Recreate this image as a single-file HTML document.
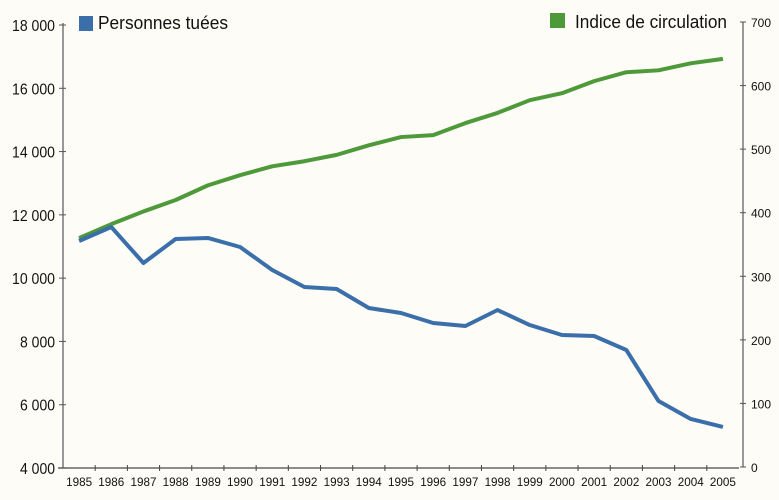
<!DOCTYPE html>
<html><head><meta charset="utf-8"><style>
html,body{margin:0;padding:0;background:#fdfcf6;}
svg{display:block;font-family:"Liberation Sans",Arial,sans-serif;}
</style></head><body>
<svg id="chart" width="779" height="500" viewBox="0 0 779 500">
<rect width="779" height="500" fill="#fdfcf6"/>
<g id="axes"></g>
<g id="series"></g>
<g>
 <rect x="79" y="16" width="14" height="15" fill="#3a6faa"/>
 <text x="98" y="29" font-size="18" fill="#111" textLength="130" lengthAdjust="spacingAndGlyphs">Personnes tuées</text>
 <rect x="550" y="13" width="15" height="15" fill="#4e9a3a"/>
 <text x="575" y="28" font-size="18" fill="#111" textLength="152" lengthAdjust="spacingAndGlyphs">Indice de circulation</text>
</g>
</svg>
<script>
const years=[1985,1986,1987,1988,1989,1990,1991,1992,1993,1994,1995,1996,1997,1998,1999,2000,2001,2002,2003,2004,2005];
const tues=[11174,11616,10478,11237,11269,10984,10257,9720,9657,9056,8898,8582,8487,8993,8519,8203,8171,7729,6117,5549,5296];
const circulation=[360,382,402,420,443,459,473,481,491,506,519,522,541,557,577,588,607,621,624,635,642];
const leftTicks=[4000,6000,8000,10000,12000,14000,16000,18000];
const leftTickLabels=["4 000","6 000","8 000","10 000","12 000","14 000","16 000","18 000"];
const rightTicks=[0,100,200,300,400,500,600,700];

const NS="http://www.w3.org/2000/svg";
const X0=63,X1=739,band=(X1-X0)/years.length;
const xPos=i=>X0+band*(i+0.5);
const yL=v=>468-(v-4000)/14000*443;
const yR=v=>467-v/700*445;
function mk(tag,attrs,parent){const e=document.createElementNS(NS,tag);for(const k in attrs)e.setAttribute(k,attrs[k]);parent.appendChild(e);return e;}
const axes=document.getElementById('axes'),series=document.getElementById('series');

let a=mk('line',{x1:X0,y1:yL(18000)-2,x2:X0,y2:468,stroke:'#777','stroke-width':1.5},axes);


a=mk('line',{x1:743,y1:yR(700),x2:743,y2:467,stroke:'#777','stroke-width':1.5},axes);


a=mk('line',{x1:X0-5,y1:468,x2:X1,y2:468,stroke:'#666','stroke-width':1.5},axes);



leftTicks.forEach((v,i)=>{
 const y=yL(v);
 const t=mk('line',{x1:X0-4,y1:y,x2:X0+3,y2:y,stroke:'#555','stroke-width':1},axes);
 
 
 const txt=leftTickLabels[i];
 const l=mk('text',{x:X0-8,y:y+6,'font-size':16,'text-anchor':'end',fill:'#111',textLength:txt.length>5?43:35,lengthAdjust:'spacingAndGlyphs'},axes);
 l.textContent=txt;
 
 
});
rightTicks.forEach(v=>{
 const y=yR(v);
 const t=mk('line',{x1:740,y1:y,x2:746,y2:y,stroke:'#555','stroke-width':1},axes);
 
 
 const l=mk('text',{x:751,y:y+5,'font-size':12,fill:'#111'},axes);
 l.textContent=String(v);
 
 
});
years.forEach((yr,i)=>{
 if(i>0){const t=mk('line',{x1:X0+band*i,y1:465,x2:X0+band*i,y2:471,stroke:'#444','stroke-width':1},axes);
 
 }
 const l=mk('text',{x:xPos(i),y:486,'font-size':12,'text-anchor':'middle',fill:'#111',textLength:26,lengthAdjust:'spacingAndGlyphs'},axes);
 l.textContent=String(yr);
 
 
});

let p=mk('polyline',{points:circulation.map((v,i)=>xPos(i)+','+yR(v)).join(' '),fill:'none',stroke:'#4e9a3a','stroke-width':4,'stroke-linejoin':'round'},series);


p=mk('polyline',{points:tues.map((v,i)=>xPos(i)+','+yL(v)).join(' '),fill:'none',stroke:'#3a6faa','stroke-width':4,'stroke-linejoin':'round'},series);


</script>
</body></html>
